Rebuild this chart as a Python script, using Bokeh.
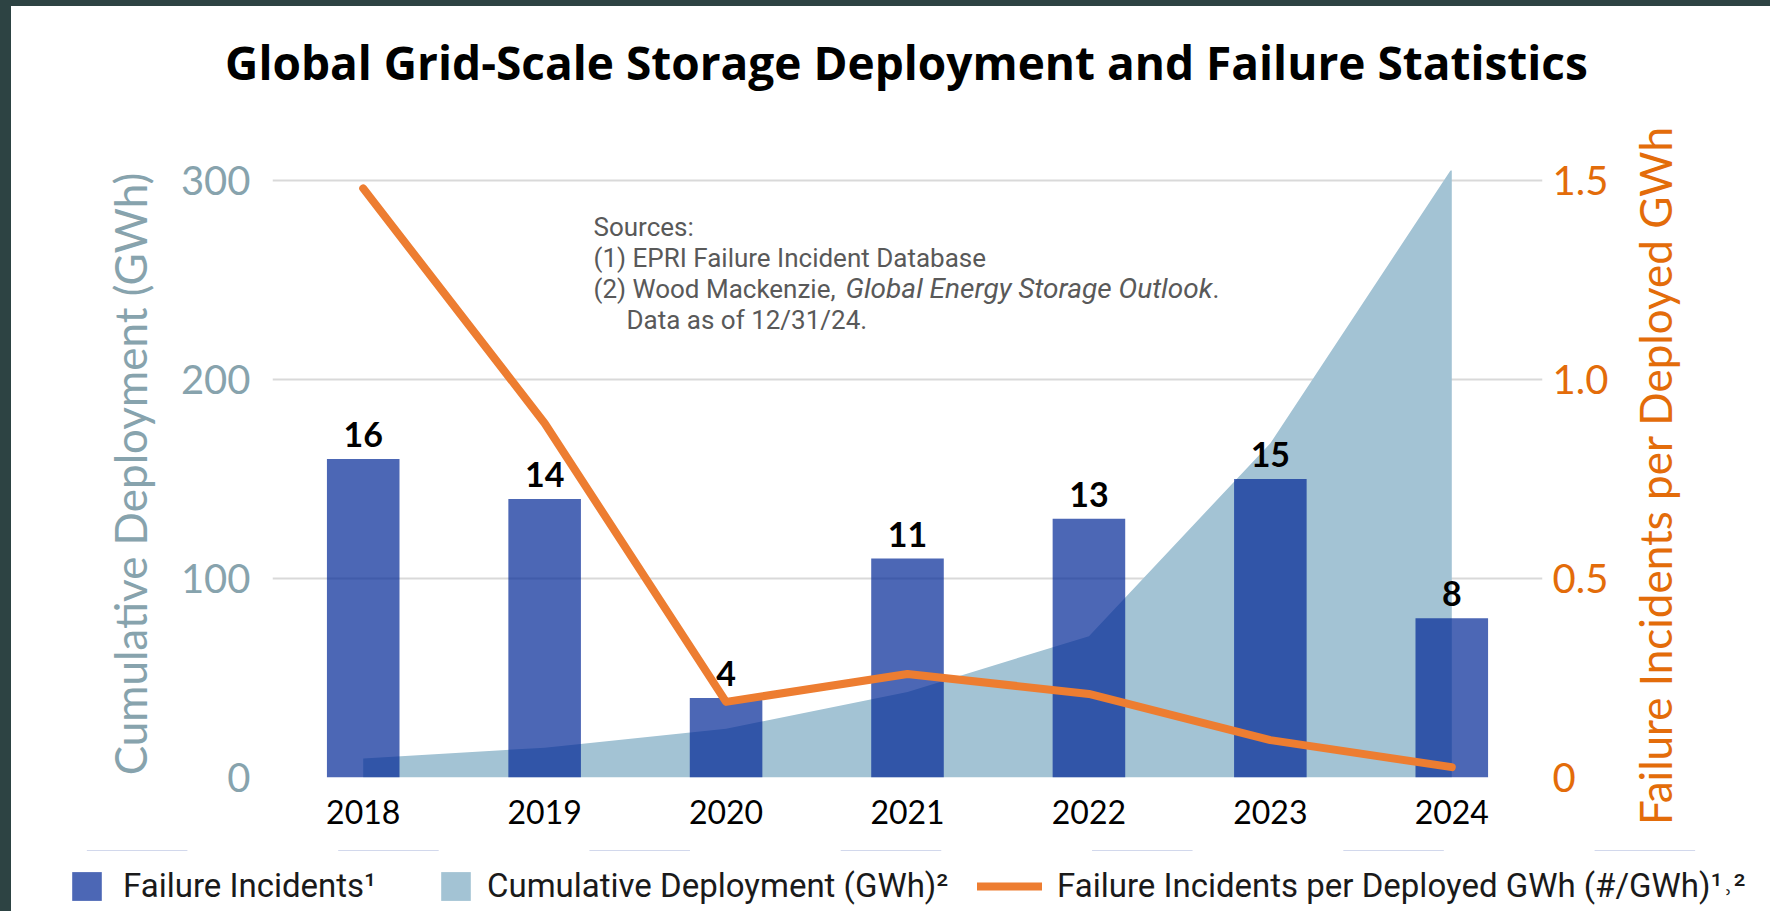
from bokeh.plotting import figure
from bokeh.layouts import column, row
from bokeh.models import (FactorRange, Range1d, LinearAxis, FixedTicker, CustomJSTickFormatter,
                          ColumnDataSource, LabelSet, Label, Legend, LegendItem, Div,
                          GlobalInlineStyleSheet)
from bokeh.core.properties import value
from bokeh.embed import file_html
from bokeh.resources import INLINE

# ---------------- data ----------------
years = ["2018", "2019", "2020", "2021", "2022", "2023", "2024"]
failure_incidents = [16, 14, 4, 11, 13, 15, 8]
cumulative_gwh = [9.5, 15, 24.5, 43, 71, 168, 306]
incidents_per_gwh = [1.48, 0.89, 0.19, 0.26, 0.21, 0.094, 0.026]
left_ticks = [0, 100, 200, 300]
right_ticks = [0, 0.5, 1.0, 1.5]

title_text = "Global Grid-Scale Storage Deployment and Failure Statistics"
left_label = "Cumulative Deployment (GWh)"
right_label = "Failure Incidents per Deployed GWh"
legend_labels = ["Failure Incidents\u00b9", "Cumulative Deployment (GWh)\u00b2",
                 "Failure Incidents per Deployed GWh (#/GWh)\u00b9\u02d2\u00b2"]
source_lines = ["Sources:", "(1) EPRI Failure Incident Database",
                "(2) Wood Mackenzie, ", "Global Energy Storage Outlook", ".",
                "Data as of 12/31/24."]

# ---------------- style ----------------
BAR_COLOR = "#002795"
AREA_COLOR = "#a3c3d4"
LINE_COLOR = "#ed7d31"
RIGHT_COLOR = "#e36c0a"
LEFT_COLOR = "#87a3ad"
FONT = "Lato"
TXT_FONT = "Roboto"

W = 1759
W_RLAB = 140
W_MAIN = W - W_RLAB
H_TITLE, H_MAIN, H_LEG = 100, 744, 61
FL, FR, FT, FB = 261, W_MAIN - 261 - 1270, 64, 73
Y_MAX = 305
WHITE = {"background-color": "white"}

src = ColumnDataSource(dict(
    year=years,
    count=failure_incidents,
    count_label=[str(v) for v in failure_incidents],
    gwh=cumulative_gwh,
    rate=incidents_per_gwh,
))

# ---------------- title strip ----------------
title_div = Div(text=title_text, width=W, height=H_TITLE, margin=0, styles={
    "background-color": "white", "font-family": "'Open Sans'", "font-size": "46px",
    "font-weight": "bold", "color": "black", "text-align": "center", "line-height": "1",
    "padding-top": "33px", "text-indent": "32px", "box-sizing": "border-box",
    "white-space": "nowrap"})

# ---------------- main chart ----------------
p = figure(x_range=FactorRange(*years), y_range=Range1d(0, Y_MAX),
           width=W_MAIN, height=H_MAIN, output_backend="svg", toolbar_location=None,
           min_border_left=FL, min_border_right=FR, min_border_top=FT,
           min_border_bottom=FB, margin=0,
           background_fill_color="white", border_fill_color="white")
p.styles = WHITE
p.outline_line_color = None
p.title.text = ""
p.title.visible = False
p.extra_y_ranges = {"rate": Range1d(0, Y_MAX / 200.0), "count": Range1d(0, Y_MAX / 10.0)}

# grid
p.xgrid.grid_line_color = None
p.ygrid.ticker = FixedTicker(ticks=left_ticks)
p.ygrid.grid_line_color = "#d9d9d9"
p.ygrid.grid_line_width = 2

# left axis
ya = p.yaxis[0]
ya.ticker = FixedTicker(ticks=left_ticks)
ya.axis_label = left_label
ya.axis_line_color = None
ya.major_tick_line_color = None
ya.minor_tick_line_color = None
ya.major_label_text_font = FONT
ya.major_label_text_font_size = "40px"
ya.major_label_text_color = LEFT_COLOR
ya.major_label_standoff = 16
ya.axis_label_text_font = FONT
ya.axis_label_text_font_size = "44px"
ya.axis_label_text_font_style = "normal"
ya.axis_label_text_color = LEFT_COLOR
ya.axis_label_standoff = 22

# right axis (its title is set in the strip to the right, reading bottom-to-top)
ra = LinearAxis(y_range_name="rate", ticker=FixedTicker(ticks=right_ticks),
                formatter=CustomJSTickFormatter(code="return tick == 0 ? '0' : tick.toFixed(1);"))
ra.axis_line_color = None
ra.major_tick_line_color = None
ra.minor_tick_line_color = None
ra.major_label_text_font = FONT
ra.major_label_text_font_size = "40px"
ra.major_label_text_color = RIGHT_COLOR
ra.major_label_standoff = 4
p.add_layout(ra, "right")

right_html = ('<div style="display:inline-block; writing-mode:vertical-rl; '
              'transform:rotate(180deg); margin-left:3px; margin-top:21px; '
              'white-space:nowrap; font-family:Lato; font-size:44px; line-height:44px; '
              'color:' + RIGHT_COLOR + ';">' + right_label + '</div>')
right_div = Div(text=right_html, width=W_RLAB, height=H_MAIN, margin=0,
                styles={"background-color": "white", "line-height": "0", "font-size": "0"})

# x axis
xa = p.xaxis[0]
xa.axis_line_color = None
xa.major_tick_line_color = None
xa.minor_tick_line_color = None
xa.major_label_text_font = FONT
xa.major_label_text_font_size = "32px"
xa.major_label_text_color = "black"
xa.major_label_standoff = 16

# glyphs
area = p.varea(x="year", y1=0, y2="gwh", source=src, fill_color=AREA_COLOR)
bars = p.vbar(x="year", top="count", width=0.4, source=src, y_range_name="count",
              fill_color=BAR_COLOR, fill_alpha=0.7, line_color=None)
line = p.line(x="year", y="rate", source=src, y_range_name="rate",
              line_color=LINE_COLOR, line_width=8, line_cap="round", line_join="round")

p.add_layout(LabelSet(x="year", y="count", text="count_label", source=src,
                      y_range_name="count", y_offset=12, text_align="center",
                      text_baseline="alphabetic", text_font=value(FONT),
                      text_font_size="34px", text_font_style="bold", text_color="black"))

# sources note (screen units, relative to the plot frame)
SRC_X, SRC_Y, SRC_DY = 321, 551, 31
note_style = dict(x_units="screen", y_units="screen", text_font=TXT_FONT,
                  text_color="#595959", text_baseline="middle")
p.add_layout(Label(x=SRC_X, y=SRC_Y, text=source_lines[0], text_font_size="26px", **note_style))
p.add_layout(Label(x=SRC_X, y=SRC_Y - SRC_DY, text=source_lines[1], text_font_size="26px",
                   **note_style))
p.add_layout(Label(x=SRC_X, y=SRC_Y - 2 * SRC_DY, text=source_lines[2], text_font_size="26px",
                   **note_style))
p.add_layout(Label(x=SRC_X + 252, y=SRC_Y - 2 * SRC_DY, text=source_lines[3],
                   text_font_size="28px", text_font_style="italic", **note_style))
p.add_layout(Label(x=SRC_X + 619, y=SRC_Y - 2 * SRC_DY, text=source_lines[4],
                   text_font_size="26px", **note_style))
p.add_layout(Label(x=SRC_X + 33, y=SRC_Y - 3 * SRC_DY, text=source_lines[5],
                   text_font_size="26px", **note_style))

# ---------------- legend strip ----------------
# same series, drawn on a y-range where they fall out of view: only the swatches show
pl = figure(x_range=FactorRange(*years), y_range=Range1d(-2, -1),
            width=W, height=H_LEG, output_backend="svg", toolbar_location=None,
            min_border=0, min_border_left=0, min_border_right=0, min_border_top=0,
            min_border_bottom=0, x_axis_location=None, y_axis_location=None, margin=0,
            background_fill_color="white", border_fill_color="white")
pl.styles = WHITE
pl.outline_line_color = None
pl.grid.visible = False
lg_area = pl.varea(x="year", y1=0, y2="gwh", source=src, fill_color=AREA_COLOR)
lg_bar = pl.vbar(x="year", top="count", width=0.4, source=src,
                 fill_color=BAR_COLOR, fill_alpha=0.7, line_color=None)
lg_line = pl.line(x="year", y="count", source=src, line_color=LINE_COLOR, line_width=8,
                  line_cap="round")

for ax_plot in (p, pl):
    try:
        ax_plot.frame_align = False
    except Exception:
        pass

leg_common = dict(orientation="horizontal", glyph_height=36, padding=0, margin=0,
                  border_line_color=None, background_fill_alpha=0,
                  label_text_font=TXT_FONT, label_text_font_size="33px",
                  label_text_color="#1a1a1a")
pl.add_layout(Legend(items=[LegendItem(label=legend_labels[0], renderers=[lg_bar])],
                     location=(57, 6), glyph_width=37, label_standoff=18, **leg_common))
pl.add_layout(Legend(items=[LegendItem(label=legend_labels[1], renderers=[lg_area])],
                     location=(426, 6), glyph_width=37, label_standoff=13, **leg_common))
pl.add_layout(Legend(items=[LegendItem(label=legend_labels[2], renderers=[lg_line])],
                     location=(966, 6), glyph_width=65, label_standoff=15, **leg_common))

page = column(title_div, row(p, right_div, spacing=0, margin=0), pl, spacing=0, margin=0)
page.styles = WHITE
page.stylesheets = [GlobalInlineStyleSheet(css=(
    "html, body {margin:0; padding:0; background:#2d4343; overflow:hidden;}"
    " body {padding: 6px 0 0 11px;}"))]

open("out.html", "w").write(file_html(page, INLINE))
